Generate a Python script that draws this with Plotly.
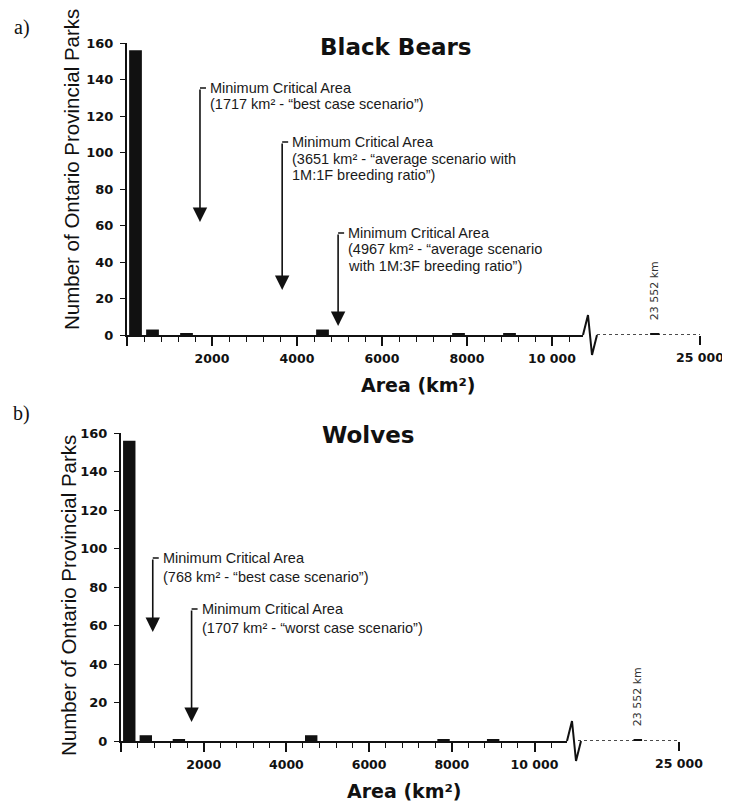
import plotly.graph_objects as go

# the page body has an 8px margin: offset everything so page pixels line up
PAGE_W, PAGE_H, OFF = 730, 806, 8
W, H = PAGE_W - OFF, PAGE_H - OFF

# ---------------- data ----------------
bin_centers = [200, 600, 1400, 4600, 7800, 9000]
bear_counts = [156, 3, 1, 3, 1, 1]
wolf_counts = [156, 3, 1, 3, 1, 1]
outlier_area = [23552]
outlier_count = [1]
bin_width = 300

bear_mca = [1717, 3651, 4967]
bear_mca_text = [
    ["Minimum Critical Area", "(1717 km² - “best case scenario”)"],
    ["Minimum Critical Area", "(3651 km² - “average scenario with", "1M:1F breeding ratio”)"],
    ["Minimum Critical Area", "(4967 km² - “average scenario", "with 1M:3F breeding ratio”)"],
]
wolf_mca = [768, 1707]
wolf_mca_text = [
    ["Minimum Critical Area", "(768 km² - “best case scenario”)"],
    ["Minimum Critical Area", "(1707 km² - “worst case scenario”)"],
]

x_tickvals = [0, 2000, 4000, 6000, 8000, 10000]
x_ticktext = ["", "2000", "4000", "6000", "8000", "10 000"]
x_break_tickvals = [25000]
x_break_ticktext = ["25 000"]
y_tickvals = [0, 20, 40, 60, 80, 100, 120, 140, 160]

# ---------------- helpers (page pixel -> paper) ----------------
def px(x):
    return (x - OFF) / W

def py(y):
    return 1 - (y - OFF) / H

SANS = "DejaVu Sans"
ARIAL = "Liberation Sans, Arial"
SERIF = "Liberation Serif, Times New Roman"
INK = "#111111"

panels = [
    dict(counts=bear_counts, title="Black Bears", letter="a)",
         x0=127, brk=583, x2a=597, x2b=700, y0=335, y1=43, xmax=10729, x2min=21700,
         title_xy=(396, 47), letter_xy=(22, 27), ytitle_xy=(72, 170), xtitle_xy=(418, 385),
         mca=bear_mca, mca_text=bear_mca_text,
         hooks=[88, 142, 233], tips=[222, 290, 326], line_gap=16.5),
    dict(counts=wolf_counts, title="Wolves", letter="b)",
         x0=121, brk=567, x2a=578, x2b=679, y0=741, y1=433, xmax=10786, x2min=21450,
         title_xy=(368, 435), letter_xy=(22, 413), ytitle_xy=(68, 596), xtitle_xy=(404, 791),
         mca=wolf_mca, mca_text=wolf_mca_text,
         hooks=[558, 609], tips=[632, 722], line_gap=19),
]

fig = go.Figure()
layout = dict(
    width=W, height=H,
    margin=dict(l=0, r=0, t=0, b=0, autoexpand=False),
    paper_bgcolor="white", plot_bgcolor="white",
    showlegend=False, barmode="overlay",
)
annotations = []
shapes = []

tickfont = dict(family=SANS, size=12.5, color=INK, weight="bold")

for i, p in enumerate(panels):
    xa = f"x{2 * i + 1 if i else ''}"
    xb = f"x{2 * i + 2}"
    ya = f"y{i + 1 if i else ''}"
    xa_key = "xaxis" + (str(2 * i + 1) if i else "")
    xb_key = "xaxis" + str(2 * i + 2)
    ya_key = "yaxis" + (str(i + 1) if i else "")

    layout[xa_key] = dict(
        domain=[px(p["x0"]), px(p["brk"])], range=[0, p["xmax"]], anchor=ya,
        showline=True, linewidth=2, linecolor=INK, showgrid=False, zeroline=False,
        ticks="outside", ticklen=9, tickwidth=1.6, tickcolor=INK,
        tickmode="array", tickvals=x_tickvals, ticktext=x_ticktext, tickfont=tickfont,
        ticklabelstandoff=2,
        minor=dict(tickmode="linear", tick0=0, dtick=400, ticks="outside",
                   ticklen=5, tickwidth=1.3, tickcolor=INK, showgrid=False),
    )
    layout[xb_key] = dict(
        domain=[px(p["x2a"]), px(p["x2b"])], range=[p["x2min"], 25001], anchor=ya,
        showline=False, showgrid=False, zeroline=False,
        ticks="outside", ticklen=9, tickwidth=1.6, tickcolor=INK,
        tickmode="array", tickvals=x_break_tickvals, ticktext=x_break_ticktext,
        tickfont=tickfont, ticklabelstandoff=2,
    )
    layout[ya_key] = dict(
        domain=[py(p["y0"]), py(p["y1"])], range=[0, 160], anchor=xa,
        showline=True, linewidth=2, linecolor=INK, showgrid=False, zeroline=False,
        ticks="outside", ticklen=5, tickwidth=1.4, tickcolor=INK,
        tickmode="array", tickvals=y_tickvals,
        tickfont=dict(family=SANS, size=13, color=INK, weight="bold"),
        ticklabelstandoff=4,
    )

    fig.add_trace(go.Bar(x=bin_centers, y=p["counts"], width=bin_width,
                         xaxis=xa, yaxis=ya, marker=dict(color=INK, line=dict(width=0))))
    fig.add_trace(go.Bar(x=outlier_area, y=outlier_count, width=bin_width,
                         xaxis=xb, yaxis=ya, marker=dict(color=INK, line=dict(width=0))))

    # dotted axis segment after the break
    shapes.append(dict(type="line", xref=f"{xb} domain", yref=ya, x0=0, x1=1, y0=0, y1=0,
                       line=dict(color=INK, width=1.5, dash="dot")))
    # zig-zag break symbol
    b, y0 = p["brk"], p["y0"]
    zz = [(b, y0), (b + 5, y0 - 20), (b + 9, y0 + 20), (b + 14, y0)]
    path = "M " + " L ".join(f"{px(a)},{py(c)}" for a, c in zz)
    shapes.append(dict(type="path", xref="paper", yref="paper", path=path,
                       line=dict(color=INK, width=2)))

    # outlier value label
    for v in outlier_area:
        annotations.append(dict(
            xref=xb, yref=ya, x=v, y=0, yanchor="bottom", xanchor="center",
            yshift=13, textangle=-90, showarrow=False,
            text=f"{v:,}".replace(",", " ") + " km",
            font=dict(family=SANS, size=11, color="#333")))

    # minimum critical area arrows
    ppu_y = (p["y0"] - p["y1"]) / 160.0
    ppu_x = (p["brk"] - p["x0"]) / p["xmax"]
    for val, lines, hook, tip in zip(p["mca"], p["mca_text"], p["hooks"], p["tips"]):
        y_hook = (p["y0"] - hook) / ppu_y
        y_tip = (p["y0"] - tip) / ppu_y
        annotations.append(dict(
            xref=xa, yref=ya, x=val, y=y_tip, axref=xa, ayref=ya, ax=val, ay=y_hook,
            showarrow=True, arrowhead=2, arrowsize=1.8, arrowwidth=1.6,
            arrowcolor=INK, text=""))
        shapes.append(dict(type="line", xref=xa, yref=ya, x0=val, x1=val + 6 / ppu_x,
                           y0=y_hook, y1=y_hook, line=dict(color=INK, width=1.5)))
        for k, line in enumerate(lines):
            annotations.append(dict(
                xref=xa, yref="paper", x=val, xshift=8, y=py(hook + k * p["line_gap"]),
                xanchor="left", yanchor="middle", showarrow=False, text=line,
                font=dict(family=ARIAL, size=14.5, color="#1a1a1a")))

    # titles and labels
    tx, ty = p["title_xy"]
    annotations.append(dict(xref="paper", yref="paper", x=px(tx), y=py(ty),
                            xanchor="center", yanchor="middle", showarrow=False,
                            text=p["title"],
                            font=dict(family=SANS, size=23, color=INK, weight="bold")))
    lx, ly = p["letter_xy"]
    annotations.append(dict(xref="paper", yref="paper", x=px(lx), y=py(ly),
                            xanchor="center", yanchor="middle", showarrow=False,
                            text=p["letter"], font=dict(family=SERIF, size=20, color=INK)))
    vx, vy = p["ytitle_xy"]
    annotations.append(dict(xref="paper", yref="paper", x=px(vx), y=py(vy),
                            xanchor="center", yanchor="middle", showarrow=False,
                            textangle=-90, text="Number of Ontario Provincial Parks",
                            font=dict(family=ARIAL, size=20.5, color=INK)))
    hx, hy = p["xtitle_xy"]
    annotations.append(dict(xref="paper", yref="paper", x=px(hx), y=py(hy),
                            xanchor="center", yanchor="middle", showarrow=False,
                            text="Area (km²)",
                            font=dict(family=SANS, size=19, color=INK, weight="bold")))

layout["annotations"] = annotations
layout["shapes"] = shapes
fig.update_layout(**layout)
fig.write_html("out.html")
